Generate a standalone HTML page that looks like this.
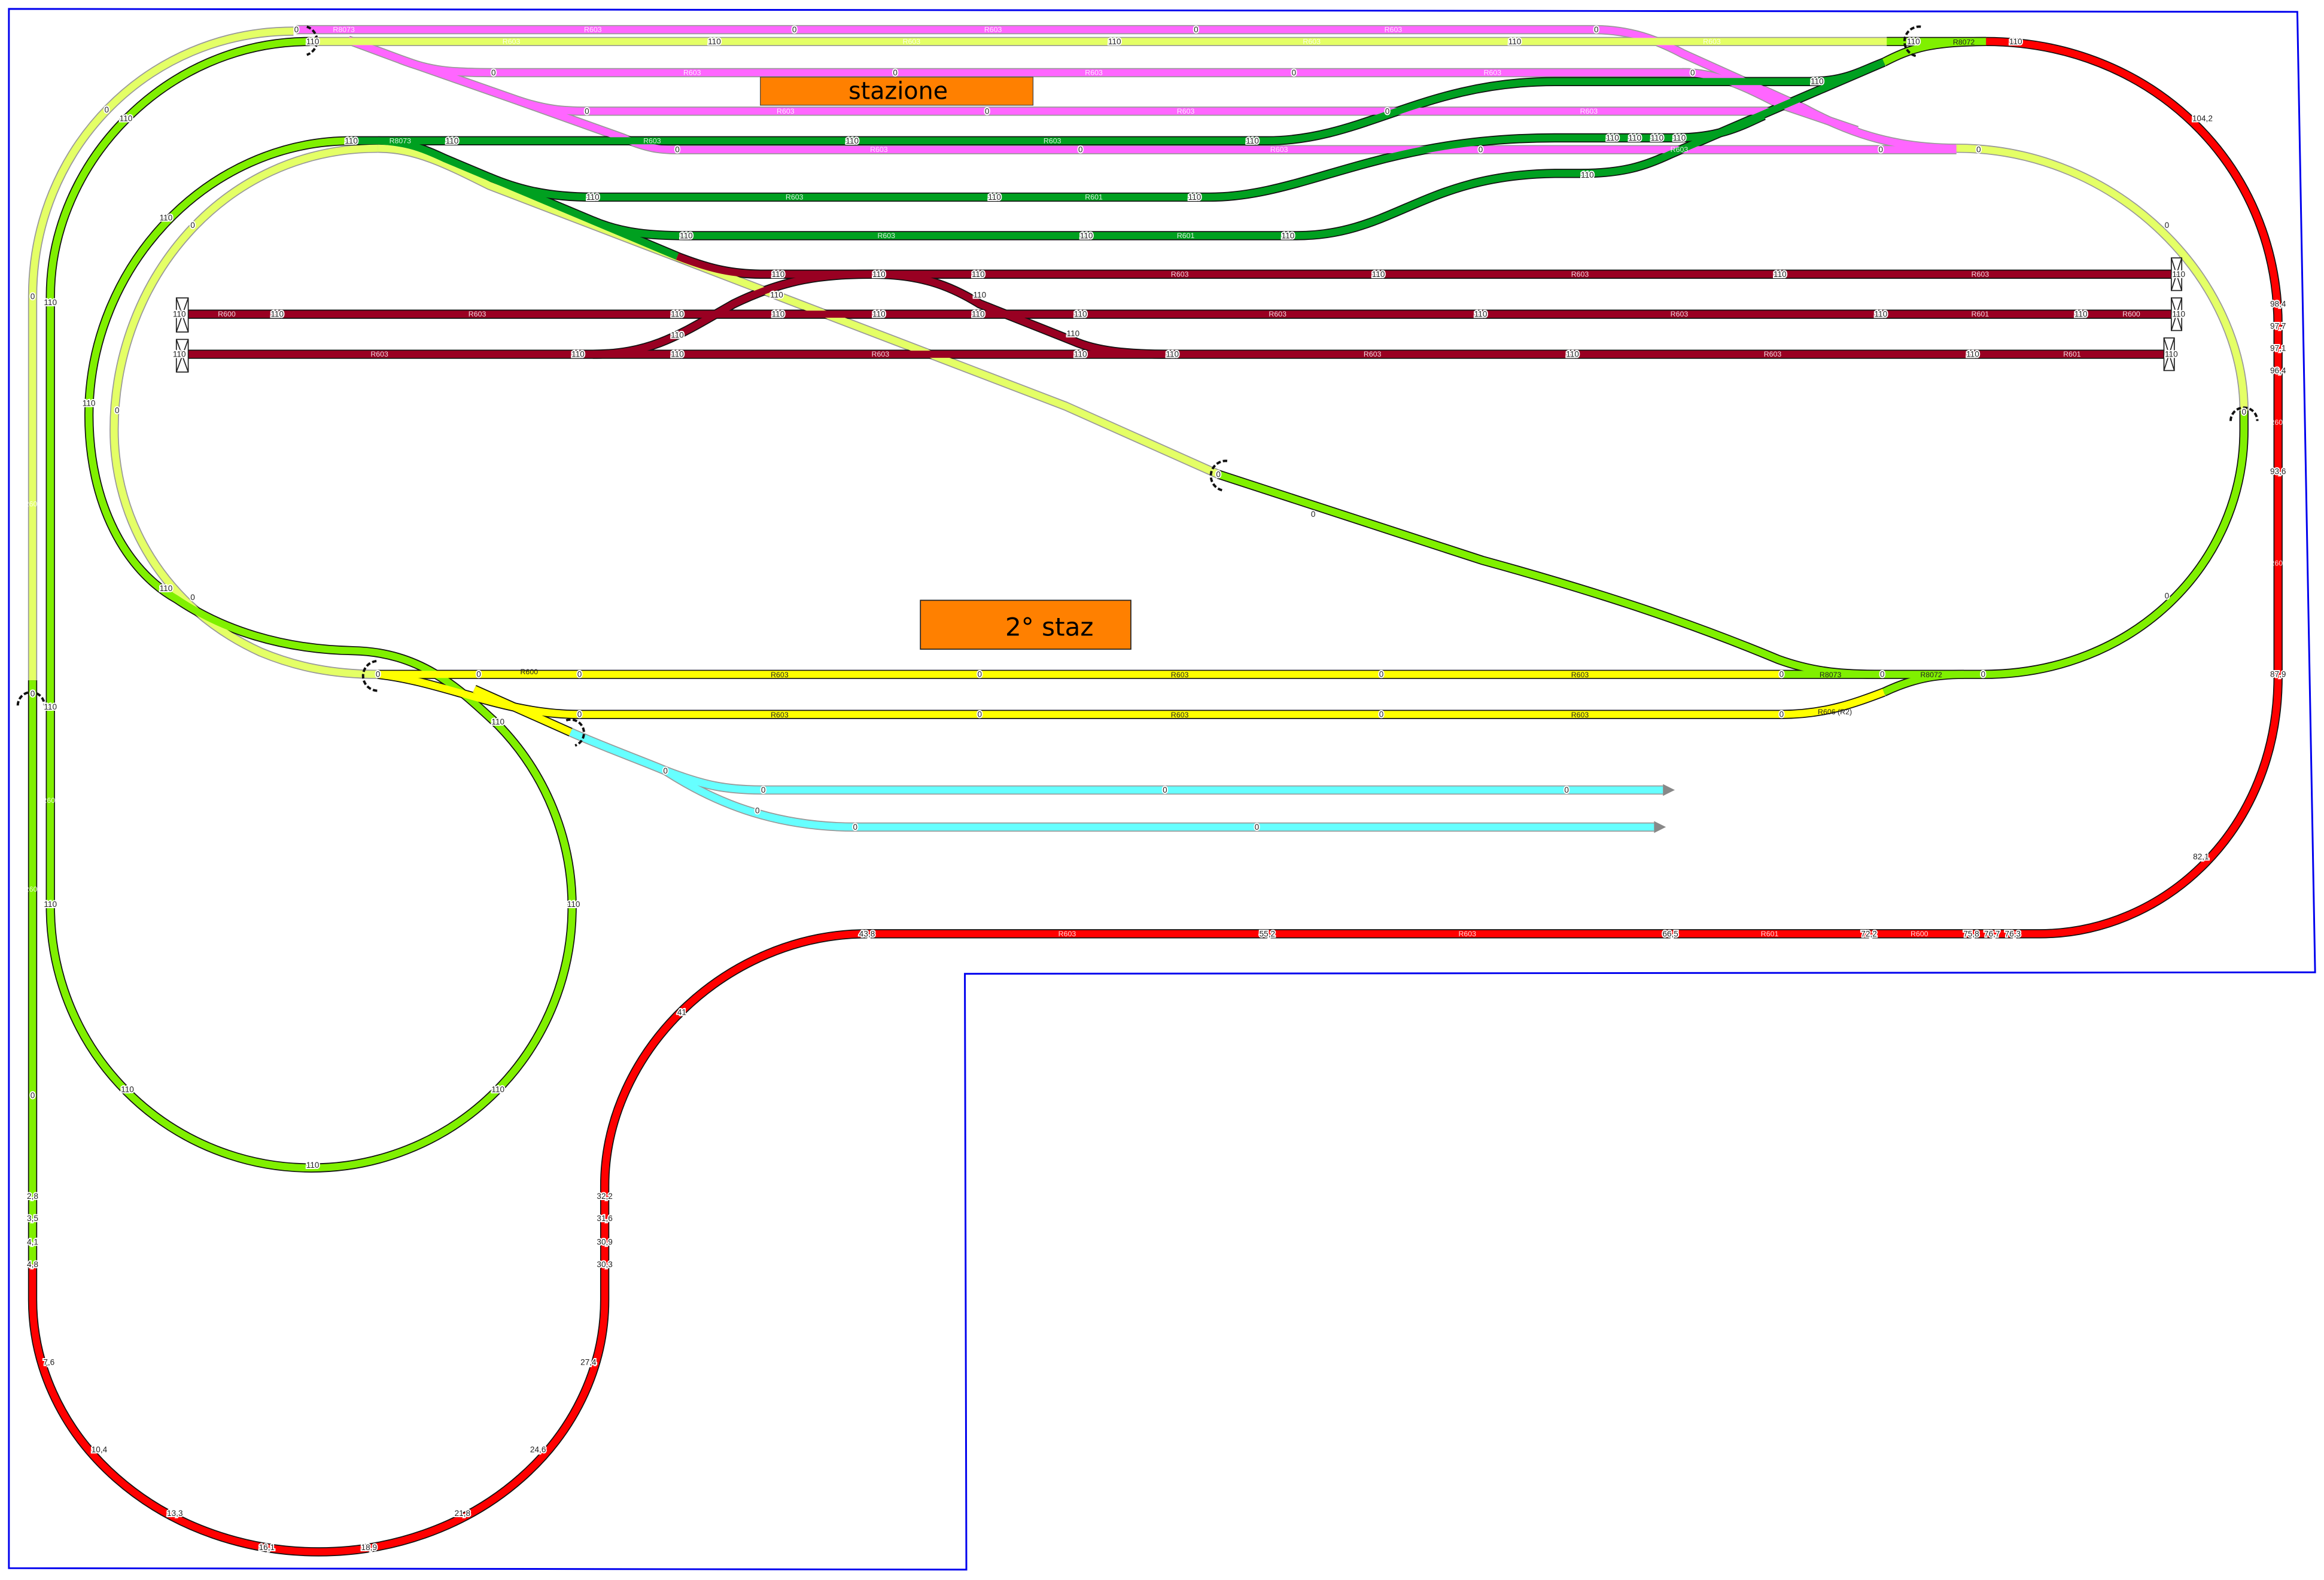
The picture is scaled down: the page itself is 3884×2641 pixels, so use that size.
<!DOCTYPE html>
<html><head><meta charset="utf-8">
<style>
html,body{margin:0;padding:0;background:#fff;}
svg{display:block;}
.t{fill:none;stroke-linecap:butt;stroke-linejoin:round;}
.lb{font-family:"Liberation Sans",sans-serif;font-size:5.5px;text-anchor:middle;dominant-baseline:central;paint-order:stroke;stroke:#fff;stroke-width:1.6px;fill:#222;}
.lw{font-family:"Liberation Sans",sans-serif;font-size:5px;text-anchor:middle;dominant-baseline:central;fill:#fff;opacity:.85}
</style></head>
<body>
<svg width="3884" height="2641" viewBox="0 0 1568 1066" preserveAspectRatio="none" xmlns="http://www.w3.org/2000/svg">
<rect width="1568" height="1066" fill="#fff"/>
<path d="M6,6 L1550,8 L1562,656 L651,657 L652,1059 L6,1058 Z" fill="none" stroke="#0000ee" stroke-width="1.2"/>

<defs>
 <path id="p1" d="M200,20 H1075 C1100,20 1118,27 1135,36 L1217,73 C1245,88 1275,100 1320,100"/>
 <path id="p2" d="M235,27 L270,40 C290,48 305,49 331,49 H1140"/>
 <path id="p3" d="M270,40 L350,68 C368,74 380,75 396,75 H1195"/>
 <path id="p4" d="M350,68 L420,93 C437,100 445,101 457,101 H1320"/>
 <path id="p5" d="M1135,49 C1160,49 1180,60 1200,70 L1253,88"/>
 <path id="l1" d="M209,28 H1290"/>
 <path id="l2" d="M198,21 C100,21 22,100 22,200 V459"/>
 <path id="l3" d="M255,100 C150,100 77,190 77,290 C77,350 110,410 176,440 C200,450 225,455 255,455"/>
 <path id="l4" d="M1320,100 C1430,100 1514,190 1514,277"/>
 <path id="l5" d="M255,100 C280,100 300,110 330,125 L719,274 L822,320"/>
 <path id="c1" d="M385,494 C410,505 430,512 449,520 C475,530 490,533 515,533 H1122"/>
 <path id="c2" d="M449,520 C480,540 520,558 577,558 H1116"/>
 <path id="g1" d="M237,95 C140,95 60,180 60,280 C60,340 85,385 119,404 C150,425 190,438 238,439 C285,440 310,465 336,489 A176,176 0 0 1 386,612 A176,176 0 0 1 34,612 V200 C34,110 112,28 209,28"/>
 <path id="g2" d="M22,459 V853"/>
 <path id="g3" d="M1202,455 H1338 C1440,455 1514,380 1514,290 V277"/>
 <path id="g4" d="M822,320 L1000,378 C1080,400 1140,420 1200,445 C1225,454 1245,455 1270,455"/>
 <path id="g5" d="M1273,28 H1340"/>
 <path id="g6" d="M1271,42 C1290,32 1305,28 1340,28"/>
 <path id="g7" d="M1271,467 C1290,458 1305,455 1325,455"/>
 <path id="y1" d="M255,455 H1202"/>
 <path id="y2" d="M255,455 C300,460 340,482 390,482 H1202 C1230,482 1250,475 1271,467"/>
 <path id="y3" d="M320,465 L385,494"/>
 <path id="d1" d="M237,95 H855 C920,95 960,55 1049,55 H1221 C1245,55 1255,48 1271,42"/>
 <path id="d2" d="M255,95 C275,96 285,100 300,107 L457,173"/>
 <path id="d3" d="M330,119.6 C350,128 370,133 400,133 H816 C880,133 930,93 1049,93 H1131 C1160,93 1175,85 1190,78"/>
 <path id="d4" d="M400,149 C420,157.5 440,159 463,159 H875 C940,159 960,118 1049,117 H1066 C1095,117 1110,112 1127,104 L1271,42"/>
 <path id="k1" d="M457,173 C480,182 495,185 515,185 H1466"/>
 <path id="k2" d="M125,212 H1466"/>
 <path id="k3" d="M125,239 H1466"/>
 <path id="k4" d="M400,239 C440,239 460,225 495,205 C530,188 555,185 589,185 C620,185 640,192 661,205 L724,230 C740,237 760,239 790,239"/>
 <path id="r1" d="M1340,28 C1450,28 1537,110 1537,220 V457 C1537,560 1460,630 1376,630 H585 C490,630 408,710 408,800 V877 A193,170 0 0 1 22,877 V853"/>
</defs>

<g class="t" stroke-width="6.2">
 <g stroke="#999">
  <use href="#p1"/><use href="#p2"/><use href="#p3"/><use href="#p4"/><use href="#p5"/>
  <use href="#l1"/><use href="#l2"/><use href="#l3"/><use href="#l4"/><use href="#l5"/>
  <use href="#c1"/><use href="#c2"/>
 </g>
 <g stroke="#111">
  <use href="#g1"/><use href="#g2"/><use href="#g3"/><use href="#g4"/><use href="#g5"/><use href="#g6"/><use href="#g7"/>
  <use href="#y1"/><use href="#y2"/><use href="#y3"/>
  <use href="#d1"/><use href="#d2"/><use href="#d3"/><use href="#d4"/>
  <use href="#k1"/><use href="#k2"/><use href="#k3"/><use href="#k4"/>
  <use href="#r1"/>
 </g>
</g>
<g class="t" stroke-width="4.8">
 <g stroke="#ff66ff"><use href="#p1"/><use href="#p2"/><use href="#p3"/><use href="#p4"/><use href="#p5"/></g>
 <g stroke="#e4ff66"><use href="#l1"/><use href="#l2"/><use href="#l3"/><use href="#l4"/><use href="#l5"/></g>
 <g stroke="#66ffff"><use href="#c1"/><use href="#c2"/></g>
 <g stroke="#80f000"><use href="#g1"/><use href="#g2"/><use href="#g3"/><use href="#g4"/><use href="#g5"/><use href="#g6"/><use href="#g7"/></g>
 <g stroke="#ffff00"><use href="#y1"/><use href="#y2"/><use href="#y3"/></g>
 <g stroke="#00a020"><use href="#d1"/><use href="#d2"/><use href="#d3"/><use href="#d4"/></g>
 <g stroke="#990022"><use href="#k1"/><use href="#k2"/><use href="#k3"/><use href="#k4"/></g>
 <use href="#r1" stroke="#ff0000"/>
</g>

<g fill="#fff" stroke="#222" stroke-width="0.7">
 <rect x="119" y="201" width="8" height="23"/><path d="M119,201 L127,224 M127,201 L119,224"/>
 <rect x="119" y="229" width="8" height="22"/><path d="M119,229 L127,251 M127,229 L119,251"/>
 <rect x="1465" y="174" width="7" height="22"/><path d="M1465,174 L1472,196 M1472,174 L1465,196"/>
 <rect x="1465" y="201" width="7" height="22"/><path d="M1465,201 L1472,223 M1472,201 L1465,223"/>
 <rect x="1460" y="228" width="7" height="22"/><path d="M1460,228 L1467,250 M1467,228 L1460,250"/>
</g>
<path d="M1122,529 L1130,533 L1122,537 Z M1116,554 L1124,558 L1116,562 Z" fill="#888"/>

<g fill="none" stroke="#111" stroke-width="1.6" stroke-dasharray="3,1.5">
 <path d="M207,18 A10,10 0 0 1 207,37"/>
 <path d="M1296,18 A10,10 0 0 0 1294,38"/>
 <path d="M12,476 A9,9 0 0 1 30,476"/>
 <path d="M828,311 A10,10 0 0 0 826,331"/>
 <path d="M1505,284 A9,9 0 0 1 1523,284"/>
 <path d="M254,446 A10,10 0 0 0 256,466"/>
 <path d="M382,486 A9,9 0 0 1 388,503"/>
</g>

<rect x="513" y="52" width="184" height="19" fill="#ff8000" stroke="#444" stroke-width="0.5"/>
<text x="606" y="61.5" font-family="'DejaVu Sans','Liberation Sans',sans-serif" font-size="16" text-anchor="middle" dominant-baseline="central" fill="#000">stazione</text>
<rect x="621" y="405" width="142" height="33" fill="#ff8000" stroke="#222" stroke-width="0.7"/>
<text x="708" y="423" font-family="'DejaVu Sans','Liberation Sans',sans-serif" font-size="17" text-anchor="middle" dominant-baseline="central" fill="#000">2° staz</text>

<g class="lb">
 <text x="200" y="20">0</text><text x="211" y="28">110</text><text x="536" y="20">0</text><text x="807" y="20">0</text><text x="1077" y="20">0</text>
 <text x="482" y="28">110</text><text x="752" y="28">110</text><text x="1022" y="28">110</text><text x="1291" y="28">110</text><text x="1360" y="28">110</text>
 <text x="333" y="49">0</text><text x="604" y="49">0</text><text x="873" y="49">0</text><text x="1142" y="49">0</text>
 <text x="396" y="75">0</text><text x="666" y="75">0</text><text x="936" y="75">0</text>
 <text x="457" y="101">0</text><text x="729" y="101">0</text><text x="999" y="101">0</text><text x="1269" y="101">0</text><text x="1335" y="101">0</text>
 <text x="237" y="95">110</text><text x="305" y="95">110</text><text x="575" y="95">110</text><text x="845" y="95">110</text>
 <text x="1226" y="55">110</text><text x="1088" y="93">110</text><text x="1103" y="93">110</text><text x="1118" y="93">110</text><text x="1133" y="93">110</text>
 <text x="400" y="133">110</text><text x="671" y="133">110</text><text x="806" y="133">110</text>
 <text x="463" y="159">110</text><text x="733" y="159">110</text><text x="869" y="159">110</text><text x="1071" y="118">110</text>
 <text x="525" y="185">110</text><text x="593" y="185">110</text><text x="660" y="185">110</text><text x="930" y="185">110</text><text x="1201" y="185">110</text><text x="1470" y="185">110</text>
 <text x="121" y="212">110</text><text x="187" y="212">110</text><text x="457" y="212">110</text><text x="525" y="212">110</text><text x="593" y="212">110</text><text x="660" y="212">110</text><text x="729" y="212">110</text><text x="999" y="212">110</text><text x="1269" y="212">110</text><text x="1404" y="212">110</text><text x="1470" y="212">110</text>
 <text x="121" y="239">110</text><text x="390" y="239">110</text><text x="457" y="239">110</text><text x="729" y="239">110</text><text x="791" y="239">110</text><text x="1061" y="239">110</text><text x="1331" y="239">110</text><text x="1465" y="239">110</text>
 <text x="524" y="199">110</text><text x="661" y="199">110</text><text x="724" y="225">110</text><text x="457" y="226">110</text>
 <text x="22" y="200">0</text><text x="34" y="204">110</text><text x="72" y="74">0</text><text x="85" y="80">110</text>
 <text x="112" y="147">110</text><text x="130" y="152">0</text><text x="60" y="272">110</text><text x="79" y="277">0</text>
 <text x="112" y="397">110</text><text x="130" y="403">0</text>
 <text x="22" y="468">0</text><text x="34" y="477">110</text><text x="34" y="610">110</text><text x="22" y="739">0</text>
 <text x="86" y="735">110</text><text x="211" y="786">110</text><text x="336" y="735">110</text><text x="387" y="610">110</text><text x="336" y="487">110</text>
 <text x="255" y="455">0</text><text x="323" y="455">0</text><text x="391" y="455">0</text><text x="661" y="455">0</text><text x="932" y="455">0</text><text x="1202" y="455">0</text><text x="1270" y="455">0</text><text x="1338" y="455">0</text>
 <text x="391" y="482">0</text><text x="661" y="482">0</text><text x="932" y="482">0</text><text x="1202" y="482">0</text>
 <text x="449" y="520">0</text><text x="515" y="533">0</text><text x="786" y="533">0</text><text x="1057" y="533">0</text><text x="511" y="547">0</text><text x="577" y="558">0</text><text x="848" y="558">0</text>
 <text x="822" y="320">0</text><text x="886" y="347">0</text><text x="1462" y="402">0</text><text x="1462" y="152">0</text><text x="1514" y="278">0</text>
 <text x="1486" y="80">104,2</text><text x="1537" y="205">98,4</text><text x="1537" y="220">97,7</text><text x="1537" y="235">97,1</text><text x="1537" y="250">96,4</text>
 <text x="1537" y="318">93,6</text><text x="1537" y="455">87,9</text><text x="1485" y="578">82,1</text>
 <text x="585" y="630">43,8</text><text x="855" y="630">55,2</text><text x="1127" y="630">66,5</text><text x="1261" y="630">72,2</text><text x="1330" y="630">75,8</text><text x="1344" y="630">76,7</text><text x="1358" y="630">76,3</text>
 <text x="460" y="683">41</text><text x="408" y="807">32,2</text><text x="408" y="822">31,6</text><text x="408" y="838">30,9</text><text x="408" y="853">30,3</text>
 <text x="397" y="919">27,4</text><text x="363" y="978">24,6</text><text x="312" y="1021">21,8</text><text x="249" y="1044">18,9</text><text x="180" y="1044">16,1</text>
 <text x="118" y="1021">13,3</text><text x="67" y="978">10,4</text><text x="33" y="919">7,6</text>
 <text x="22" y="807">2,8</text><text x="22" y="822">3,5</text><text x="22" y="838">4,1</text><text x="22" y="853">4,8</text>
</g>
<g class="lw">
 <text x="400" y="20">R603</text><text x="670" y="20">R603</text><text x="940" y="20">R603</text><text x="232" y="20">R8073</text>
 <text x="345" y="28">R603</text><text x="615" y="28">R603</text><text x="885" y="28">R603</text><text x="1155" y="28">R603</text>
 <text x="467" y="49">R603</text><text x="738" y="49">R603</text><text x="1007" y="49">R603</text>
 <text x="530" y="75">R603</text><text x="800" y="75">R603</text><text x="1072" y="75">R603</text>
 <text x="593" y="101">R603</text><text x="863" y="101">R603</text><text x="1133" y="101">R603</text>
 <text x="440" y="95">R603</text><text x="710" y="95">R603</text><text x="270" y="95">R8073</text>
 <text x="536" y="133">R603</text><text x="738" y="133">R601</text><text x="598" y="159">R603</text><text x="800" y="159">R601</text>
 <text x="796" y="185">R603</text><text x="1066" y="185">R603</text><text x="1336" y="185">R603</text>
 <text x="153" y="212">R600</text><text x="322" y="212">R603</text><text x="862" y="212">R603</text><text x="1133" y="212">R603</text><text x="1336" y="212">R601</text><text x="1438" y="212">R600</text>
 <text x="256" y="239">R603</text><text x="594" y="239">R603</text><text x="926" y="239">R603</text><text x="1196" y="239">R603</text><text x="1398" y="239">R601</text>
 <text x="22" y="340">R603</text><text x="34" y="540">R601</text><text x="22" y="600">R603</text><text x="1537" y="380">R601</text><text x="1537" y="285">R600</text>
 <text x="720" y="630">R603</text><text x="990" y="630">R603</text><text x="1194" y="630">R601</text><text x="1295" y="630">R600</text>
</g>
<g font-family="'Liberation Sans',sans-serif" font-size="5" text-anchor="middle" fill="#222">
 <text x="357" y="455">R600</text><text x="526" y="457">R603</text><text x="796" y="457">R603</text><text x="1066" y="457">R603</text>
 <text x="526" y="484">R603</text><text x="796" y="484">R603</text><text x="1066" y="484">R603</text>
 <text x="1235" y="457">R8073</text><text x="1303" y="457">R8072</text><text x="1238" y="482">R606 (R2)</text><text x="1325" y="30">R8072</text>
</g>
</svg>
</body></html>
